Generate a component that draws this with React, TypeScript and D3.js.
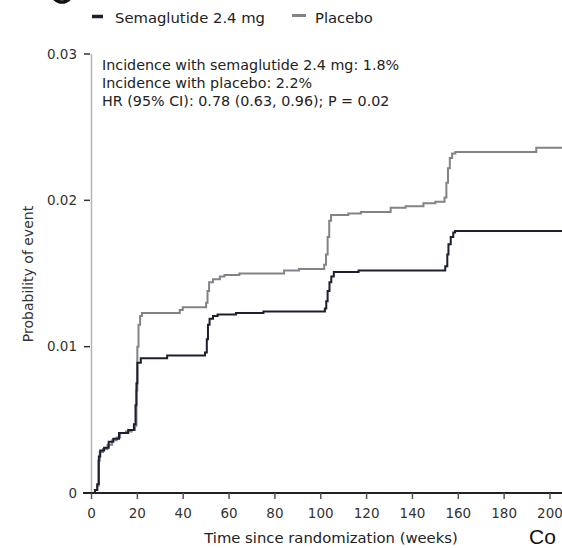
import React from "react";
import * as d3 from "d3";

const semaWeeks = [0, 1.5, 2.5, 3.2, 3.8, 5.5, 7.5, 9.5, 12, 16, 18.5, 19.2, 19.6, 20, 21.5, 33, 49.5, 50.3, 50.8, 51.5, 53, 55, 63, 75, 101.8, 102.4, 103, 103.8, 104.6, 105.7, 116.5, 154.3, 155.2, 155.7, 156.7, 157.8, 158.6, 210];
const semaProb = [0, 0.0002, 0.0006, 0.0025, 0.0029, 0.0031, 0.0035, 0.0037, 0.0041, 0.0043, 0.0047, 0.006, 0.0075, 0.0089, 0.0092, 0.0094, 0.0096, 0.0105, 0.0115, 0.0119, 0.0121, 0.0122, 0.0123, 0.0124, 0.0126, 0.0131, 0.0138, 0.0144, 0.0148, 0.0151, 0.0152, 0.0155, 0.0163, 0.017, 0.0175, 0.0178, 0.0179, 0.0179];

const placWeeks = [0, 1.5, 2.5, 3, 3.6, 5, 7, 9, 11, 12.5, 15, 17.5, 19, 19.6, 20, 20.5, 21.2, 22, 38.5, 39.8, 50, 50.6, 51.3, 53, 56, 58, 64.5, 84, 90.5, 101.5, 102.3, 103, 103.7, 104.5, 112, 117.5, 130.5, 137, 144.8, 150, 154, 154.8, 155.5, 156.3, 157.3, 158.7, 194, 210];
const placProb = [0, 0.0002, 0.0005, 0.0022, 0.0028, 0.003, 0.0033, 0.0036, 0.0038, 0.0041, 0.0042, 0.0043, 0.0046, 0.007, 0.01, 0.0115, 0.0121, 0.0123, 0.0125, 0.0127, 0.013, 0.0138, 0.0144, 0.0146, 0.0148, 0.0149, 0.015, 0.0152, 0.0153, 0.0156, 0.0163, 0.0175, 0.0186, 0.019, 0.0191, 0.0192, 0.0195, 0.0196, 0.0198, 0.0199, 0.0202, 0.0212, 0.0222, 0.0229, 0.0232, 0.0233, 0.0236, 0.0236];

const xTicks = [0, 20, 40, 60, 80, 100, 120, 140, 160, 180, 200];
const yTicks = [0, 0.01, 0.02, 0.03];
const yTickLabels = ["0", "0.01", "0.02", "0.03"];

const legendLabels = ["Semaglutide 2.4 mg", "Placebo"];
const annotationLines = [
  "Incidence with semaglutide 2.4 mg: 1.8%",
  "Incidence with placebo: 2.2%",
  "HR (95% CI): 0.78 (0.63, 0.96); P = 0.02",
];

const SEMA_COLOR = "#1c1f2e";
const PLAC_COLOR = "#808388";
const FONT = "DejaVu Sans, Verdana, sans-serif";

export default function App() {
  const W = 562;
  const H = 548;
  const x = d3.scaleLinear().domain([0, 200]).range([91.5, 550]);
  const y = d3.scaleLinear().domain([0, 0.03]).range([493, 54]);

  const line = d3
    .line<[number, number]>()
    .x((d) => x(d[0]))
    .y((d) => y(d[1]))
    .curve(d3.curveStepAfter);

  const semaPts: [number, number][] = semaWeeks.map((w, i) => [w, semaProb[i]]);
  const placPts: [number, number][] = placWeeks.map((w, i) => [w, placProb[i]]);

  return (
    <svg
      width={W}
      height={H}
      style={{ position: "absolute", left: 0, top: 0, background: "#fff" }}
      fontFamily={FONT}
    >
      <rect x={0} y={0} width={W} height={H} fill="#fff" />
      {/* clipped panel letter at top */}
      <ellipse cx={62} cy={-7} rx={9.5} ry={9} fill="none" stroke="#111" strokeWidth={3.5} />

      {/* legend */}
      <line x1={92} x2={103} y1={16.5} y2={16.5} stroke={SEMA_COLOR} strokeWidth={3.5} />
      <text x={115} y={23} fontSize={14.8} fill="#222">{legendLabels[0]}</text>
      <line x1={292} x2={306} y1={15.5} y2={15.5} stroke={PLAC_COLOR} strokeWidth={3} />
      <text x={315} y={23} fontSize={14.8} fill="#222">{legendLabels[1]}</text>

      {/* y axis */}
      <line x1={91.5} x2={91.5} y1={y(0.03)} y2={y(0)} stroke="#b5b5b5" strokeWidth={1.5} />
      {yTicks.map((t, i) => (
        <g key={t}>
          <line x1={84} x2={90} y1={y(t)} y2={y(t)} stroke="#333" strokeWidth={1.5} />
          <text x={77} y={y(t)} dy="0.35em" fontSize={13.5} textAnchor="end" fill="#333">
            {yTickLabels[i]}
          </text>
        </g>
      ))}
      <text
        transform={`translate(28,274) rotate(-90)`}
        fontSize={14}
        textAnchor="middle"
        dy="0.35em"
        fill="#333"
      >
        Probability of event
      </text>

      {/* annotation */}
      {annotationLines.map((s, i) => (
        <text key={i} x={102} y={70 + i * 18} fontSize={14.3} fill="#222">
          {s}
        </text>
      ))}

      {/* curves */}
      <path d={line(placPts) || ""} fill="none" stroke={PLAC_COLOR} strokeWidth={2} />
      <path d={line(semaPts) || ""} fill="none" stroke={SEMA_COLOR} strokeWidth={2} />

      {/* x axis */}
      <line x1={83} x2={W} y1={493} y2={493} stroke="#222" strokeWidth={2} />
      {xTicks.map((t) => (
        <g key={t}>
          <line x1={x(t)} x2={x(t)} y1={493} y2={499} stroke="#555" strokeWidth={1.5} />
          <text x={x(t)} y={513} dy="0.35em" fontSize={13.5} textAnchor="middle" fill="#333">
            {t}
          </text>
        </g>
      ))}
      <text x={331} y={538} dy="0.35em" fontSize={14.8} textAnchor="middle" fill="#222">
        Time since randomization (weeks)
      </text>

      <text x={529} y={544} fontSize={21} fontFamily="Liberation Sans, Arial, sans-serif" fill="#111">
        Co
      </text>
    </svg>
  );
}
